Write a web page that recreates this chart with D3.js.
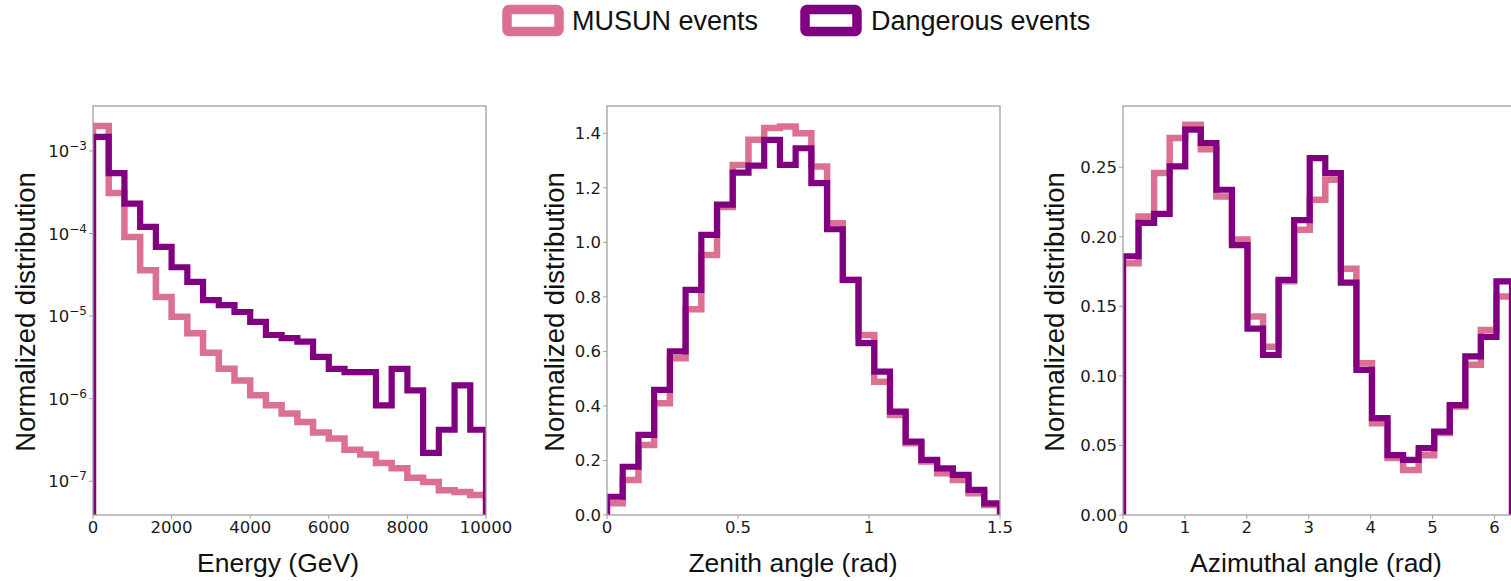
<!DOCTYPE html>
<html><head><meta charset="utf-8">
<script src="https://cdn.jsdelivr.net/npm/d3@7"></script>
<style>body{margin:0;background:#fff}svg{display:block}</style>
</head><body><svg id="c" width="1511" height="581"></svg>
<script>
// ---------- data ----------
const seriesNames = ["MUSUN events", "Dangerous events"];
const seriesColors = ["#DB7093", "#800080"];

const energyRange = [0, 10000];
const energyMusun = [2.0e-3, 3.1e-4, 9.1e-5, 3.6e-5, 1.7e-5, 9.8e-6, 6.2e-6, 3.6e-6, 2.3e-6, 1.66e-6, 1.1e-6, 8.3e-7, 6.6e-7, 5.2e-7, 3.9e-7, 3.3e-7, 2.4e-7, 2.1e-7, 1.66e-7, 1.44e-7, 1.1e-7, 9.8e-8, 7.8e-8, 7.4e-8, 6.8e-8];
const energyDanger = [1.48e-3, 5.4e-4, 2.3e-4, 1.2e-4, 6.9e-5, 3.9e-5, 2.6e-5, 1.56e-5, 1.36e-5, 1.12e-5, 8.5e-6, 5.9e-6, 5.4e-6, 4.9e-6, 3.2e-6, 2.3e-6, 2.1e-6, 2.1e-6, 8.3e-7, 2.3e-6, 1.26e-6, 2.2e-7, 4.2e-7, 1.45e-6, 4.2e-7];
const energyXTicks = [0, 2000, 4000, 6000, 8000, 10000];
const energyYTicks = [1e-3, 1e-4, 1e-5, 1e-6, 1e-7];
const energyYExp = ["−3", "−4", "−5", "−6", "−7"];

const zenithRange = [0, 1.5];
const zenithMusun = [0.043, 0.128, 0.257, 0.41, 0.575, 0.755, 0.954, 1.13, 1.284, 1.376, 1.419, 1.425, 1.40, 1.278, 1.07, 0.862, 0.66, 0.489, 0.367, 0.263, 0.196, 0.153, 0.128, 0.080, 0.037];
const zenithDanger = [0.067, 0.177, 0.294, 0.459, 0.60, 0.826, 1.027, 1.138, 1.256, 1.281, 1.376, 1.284, 1.345, 1.217, 1.048, 0.862, 0.63, 0.526, 0.379, 0.269, 0.202, 0.171, 0.147, 0.092, 0.043];
const zenithXTicks = [0, 0.5, 1, 1.5];
const zenithXLabels = ["0", "0.5", "1", "1.5"];
const zenithYTicks = [0, 0.2, 0.4, 0.6, 0.8, 1.0, 1.2, 1.4];
const zenithYLabels = ["0.0", "0.2", "0.4", "0.6", "0.8", "1.0", "1.2", "1.4"];

const azimRange = [0, 2 * Math.PI];
const azimMusun = [0.181, 0.2146, 0.2458, 0.271, 0.2806, 0.263, 0.229, 0.198, 0.1427, 0.121, 0.168, 0.205, 0.2266, 0.241, 0.177, 0.109, 0.066, 0.041, 0.0324, 0.043, 0.059, 0.078, 0.108, 0.133, 0.157];
const azimDanger = [0.186, 0.210, 0.2165, 0.2506, 0.277, 0.2674, 0.2338, 0.194, 0.134, 0.115, 0.169, 0.212, 0.2566, 0.2458, 0.167, 0.1043, 0.0696, 0.043, 0.0396, 0.048, 0.060, 0.079, 0.114, 0.128, 0.168];
const azimXTicks = [0, 1, 2, 3, 4, 5, 6];
const azimYTicks = [0, 0.05, 0.10, 0.15, 0.20, 0.25];
const azimYLabels = ["0.00", "0.05", "0.10", "0.15", "0.20", "0.25"];

const xLabels = ["Energy (GeV)", "Zenith angle (rad)", "Azimuthal angle (rad)"];
const yLabel = "Normalized distribution";

// ---------- layout ----------
const svg = d3.select("#c");
const plotTop = 106, plotBottom = 515;
const panels = [
  {left: 93, right: 486, xr: energyRange, log: true, ydom: [3.9e-8, 3.5e-3], data: [energyMusun, energyDanger],
   xt: energyXTicks, xtl: energyXTicks.map(String), yt: energyYTicks, ytl: null, xlabCx: 278, ylabX: 35},
  {left: 607, right: 1000, xr: zenithRange, log: false, ydom: [0, 1.5], data: [zenithMusun, zenithDanger],
   xt: zenithXTicks, xtl: zenithXLabels, yt: zenithYTicks, ytl: zenithYLabels, xlabCx: 793, ylabX: 564},
  {left: 1123, right: 1512, xr: azimRange, log: false, ydom: [0, 0.294], data: [azimMusun, azimDanger],
   xt: azimXTicks, xtl: azimXTicks.map(String), yt: azimYTicks, ytl: azimYLabels, xlabCx: 1316, ylabX: 1064}
];

const tickFont = "'DejaVu Sans', sans-serif";
const labFont = "'Liberation Sans', Arial, Helvetica, sans-serif";

panels.forEach((p, pi) => {
  const x = d3.scaleLinear().domain(p.xr).range([p.left, p.right]);
  const y = (p.log ? d3.scaleLog() : d3.scaleLinear()).domain(p.ydom).range([plotBottom, plotTop]);
  const g = svg.append("g");
  const cid = "clip" + pi;
  svg.append("clipPath").attr("id", cid).append("rect")
    .attr("x", p.left).attr("y", plotTop).attr("width", p.right - p.left).attr("height", plotBottom - plotTop);

  const n = p.data[0].length;
  const edges = d3.range(n + 1).map(i => p.xr[0] + (p.xr[1] - p.xr[0]) * i / n);

  p.data.forEach((vals, si) => {
    const pts = [[edges[0], p.ydom[0]]];
    vals.forEach((v, i) => { pts.push([edges[i], v]); pts.push([edges[i + 1], v]); });
    pts.push([edges[n], p.ydom[0]]);
    const line = d3.line().x(d => x(d[0])).y(d => y(d[1]));
    g.append("path").attr("d", line(pts)).attr("clip-path", `url(#${cid})`)
      .attr("fill", "none").attr("stroke", seriesColors[si])
      .attr("stroke-width", si === 0 ? 6.5 : 6.2).attr("stroke-linejoin", "miter");
  });

  // frame
  g.append("rect").attr("x", p.left).attr("y", plotTop).attr("width", p.right - p.left).attr("height", plotBottom - plotTop)
    .attr("fill", "none").attr("stroke", "#a0a0a0").attr("stroke-width", 1.3);

  // x ticks
  p.xt.forEach((t, i) => {
    g.append("line").attr("x1", x(t)).attr("x2", x(t)).attr("y1", plotBottom).attr("y2", plotBottom + 4)
      .attr("stroke", "#a0a0a0").attr("stroke-width", 1);
    g.append("text").attr("x", x(t)).attr("y", 533).attr("text-anchor", "middle")
      .attr("font-family", tickFont).attr("font-size", 16.5).attr("fill", "#1a1a1a").text(p.xtl[i]);
  });
  // y ticks
  p.yt.forEach((t, i) => {
    const yy = y(t);
    g.append("line").attr("x1", p.left - 4).attr("x2", p.left).attr("y1", yy).attr("y2", yy)
      .attr("stroke", "#a0a0a0").attr("stroke-width", 1);
    const tx = g.append("text").attr("x", p.left - 6).attr("y", yy + 6).attr("text-anchor", "end")
      .attr("font-family", tickFont).attr("font-size", 16.5).attr("fill", "#1a1a1a");
    if (p.log) {
      tx.append("tspan").text("10");
      tx.append("tspan").attr("dy", -7).attr("font-size", 12).text(energyYExp[i]);
    } else {
      tx.text(p.ytl[i]);
    }
  });

  // axis labels
  svg.append("text").attr("x", p.xlabCx).attr("y", 572).attr("text-anchor", "middle")
    .attr("font-family", labFont).attr("font-size", 26.5).attr("fill", "#111").text(xLabels[pi]);
  svg.append("text").attr("transform", `translate(${p.ylabX},312) rotate(-90)`).attr("text-anchor", "middle")
    .attr("font-family", labFont).attr("font-size", 27.5).attr("fill", "#111").text(yLabel);
});

// legend
const legendItems = [{x: 507, tx: 572}, {x: 805, tx: 871}];
legendItems.forEach((l, i) => {
  svg.append("rect").attr("x", l.x).attr("y", 9.5).attr("width", 52).attr("height", 22).attr("rx", 2)
    .attr("fill", "#fff").attr("stroke", seriesColors[i]).attr("stroke-width", 9.5);
  svg.append("text").attr("x", l.tx).attr("y", 30).attr("font-family", labFont).attr("font-size", 27)
    .attr("fill", "#111").text(seriesNames[i]);
});
</script></body></html>
